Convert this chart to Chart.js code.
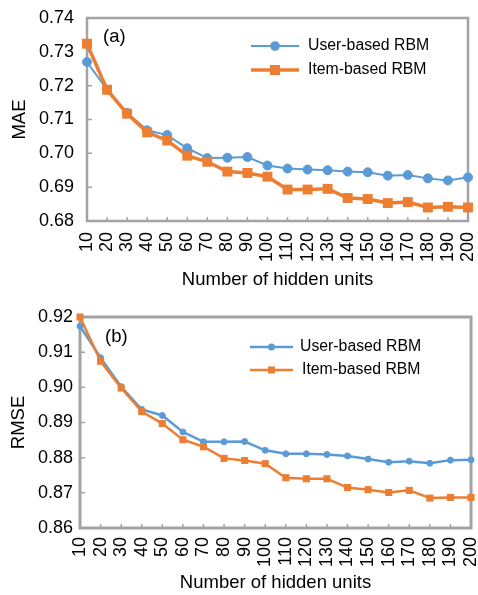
<!DOCTYPE html>
<html>
<head>
<meta charset="utf-8">
<script src="https://cdn.jsdelivr.net/npm/chart.js"></script>
<style>
  body { margin: 0; background: #fff; }
  canvas { display: block; }
</style>
</head>
<body>
<canvas id="maeChart" width="478" height="300"></canvas>
<canvas id="rmseChart" width="478" height="295"></canvas>
<script>
// data
var hiddenUnits = ["10","20","30","40","50","60","70","80","90","100","110","120","130","140","150","160","170","180","190","200"];

var maeUser = [0.7270,0.7188,0.7120,0.7068,0.7054,0.7015,0.6986,0.6987,0.6989,0.6964,0.6955,0.6952,0.6950,0.6946,0.6944,0.6934,0.6936,0.6926,0.6920,0.6929];
var maeItem = [0.7324,0.7188,0.7117,0.7062,0.7038,0.6993,0.6975,0.6946,0.6942,0.6931,0.6893,0.6893,0.6895,0.6868,0.6865,0.6853,0.6856,0.6840,0.6842,0.6840];

var rmseUser = [0.9174,0.9084,0.9002,0.8937,0.8920,0.8873,0.8845,0.8845,0.8846,0.8821,0.8811,0.8811,0.8809,0.8805,0.8796,0.8787,0.8790,0.8784,0.8793,0.8794];
var rmseItem = [0.9200,0.9074,0.8998,0.8931,0.8897,0.8851,0.8831,0.8798,0.8792,0.8783,0.8743,0.8740,0.8740,0.8715,0.8709,0.8701,0.8707,0.8685,0.8687,0.8687];

var seriesNames = ["User-based RBM", "Item-based RBM"];
var maeTicks = [0.68, 0.74, 0.01];
var rmseTicks = [0.86, 0.92, 0.01];

var blue = "#5B9BD5";
var orange = "#ED7D31";
var frameGray = "#a3a3a3";
var font = "'Liberation Sans', Arial, sans-serif";

Chart.defaults.font.family = font;
Chart.defaults.color = "#000";

// frame round the plot area + small inward ticks
var framePlugin = {
  id: "frame",
  beforeDatasetsDraw: function (chart, args, opts) {
    var ctx = chart.ctx, a = chart.chartArea;
    var xs = chart.scales.x, ys = chart.scales.y;
    ctx.save();
    ctx.strokeStyle = frameGray;
    ctx.lineWidth = opts.width;
    ctx.strokeRect(a.left, a.top, a.right - a.left, a.bottom - a.top);
    ctx.lineWidth = 1.5;
    ctx.beginPath();
    for (var i = 0; i < xs.ticks.length; i++) {
      var px = xs.getPixelForTick(i);
      ctx.moveTo(px, a.bottom);
      ctx.lineTo(px, a.bottom - 4);
    }
    for (var j = 0; j < ys.ticks.length; j++) {
      var py = ys.getPixelForTick(j);
      ctx.moveTo(a.left, py);
      ctx.lineTo(a.left + 5, py);
    }
    ctx.stroke();
    ctx.restore();
  }
};

// legend drawn inside the plot + panel letter
var insideLegend = {
  id: "insideLegend",
  afterDraw: function (chart, args, opts) {
    var ctx = chart.ctx;
    ctx.save();
    ctx.font = "18.5px " + font;
    ctx.fillStyle = "#000";
    ctx.textBaseline = "middle";
    ctx.fillText(opts.letter, opts.letterX, opts.letterY);

    ctx.font = opts.fontSize + "px " + font;
    chart.data.datasets.forEach(function (ds, i) {
      var y = opts.y + i * opts.gap;
      var x0 = opts.x, x1 = opts.x + opts.len, xm = (x0 + x1) / 2;
      ctx.strokeStyle = ds.borderColor;
      ctx.lineWidth = ds.borderWidth;
      ctx.beginPath();
      ctx.moveTo(x0, y);
      ctx.lineTo(x1, y);
      ctx.stroke();
      ctx.fillStyle = ds.borderColor;
      if (ds.pointStyle == "rect") {
        var s = opts.square;
        ctx.fillRect(xm - s / 2, y - s / 2, s, s);
      } else {
        ctx.beginPath();
        ctx.arc(xm, y, opts.dot, 0, Math.PI * 2);
        ctx.fill();
      }
      ctx.fillStyle = "#000";
      ctx.fillText(ds.label, x1 + opts.textGap + (i * opts.textShift), y);
    });
    ctx.restore();
  }
};

function makeChart(id, userData, itemData, range, cfg) {
  var c = document.getElementById(id).getContext("2d");
  return new Chart(c, {
    type: "line",
    data: {
      labels: hiddenUnits,
      datasets: [
        {
          label: seriesNames[0],
          data: userData,
          borderColor: blue,
          backgroundColor: blue,
          borderWidth: cfg.userLine,
          pointStyle: "circle",
          pointRadius: cfg.dot,
          pointBorderWidth: 1,
          tension: 0,
          clip: false,
          order: 2
        },
        {
          label: seriesNames[1],
          data: itemData,
          borderColor: orange,
          backgroundColor: orange,
          borderWidth: cfg.itemLine,
          pointStyle: "rect",
          pointRadius: cfg.rect,
          pointBorderWidth: 0,
          tension: 0,
          clip: false,
          order: 1
        }
      ]
    },
    options: {
      responsive: false,
      animation: false,
      events: [],
      layout: { padding: { top: cfg.top, right: cfg.right, left: 0, bottom: 0 } },
      plugins: {
        legend: { display: false },
        tooltip: { enabled: false },
        frame: { width: cfg.frame },
        insideLegend: cfg.legend
      },
      scales: {
        x: {
          type: "category",
          offset: false,
          grid: { display: false, drawTicks: false },
          border: { display: false },
          ticks: {
            autoSkip: false,
            maxRotation: 90,
            minRotation: 90,
            padding: cfg.xPad,
            font: { size: 18 }
          },
          title: {
            display: true,
            text: "Number of hidden units",
            font: { size: 18.5 },
            padding: { top: 0, bottom: cfg.xTitlePad }
          },
          afterFit: function (s) {
            s.height = cfg.xHeight;
            s.paddingLeft = 0;
            s.paddingRight = 0;
          }
        },
        y: {
          min: range[0],
          max: range[1],
          grid: { display: false, drawTicks: false },
          border: { display: false },
          ticks: {
            stepSize: range[2],
            padding: cfg.yPad,
            font: { size: 18 },
            callback: function (v) { return v.toFixed(2); }
          },
          title: {
            display: true,
            text: cfg.yTitle,
            font: { size: 18.5 },
            padding: { top: cfg.yTitlePad, bottom: 0 }
          },
          afterFit: function (s) {
            s.width = cfg.yWidth;
            s.paddingTop = 0;
            s.paddingBottom = 0;
          }
        }
      }
    },
    plugins: [framePlugin, insideLegend]
  });
}

makeChart("maeChart", maeUser, maeItem, maeTicks, {
  top: 18, right: 10, yWidth: 87, yPad: 13, xHeight: 79, xPad: 11,
  xTitlePad: 9, yTitlePad: 9, yTitle: "MAE", frame: 2.5,
  userLine: 2, itemLine: 3.5, dot: 4.5, rect: 7,
  legend: { letter: "(a)", letterX: 103, letterY: 37, x: 251, y: 46, gap: 24, len: 48,
            textGap: 9, textShift: 0, fontSize: 15.8, dot: 4.8, square: 10 }
});

makeChart("rmseChart", rmseUser, rmseItem, rmseTicks, {
  top: 17, right: 7, yWidth: 80, yPad: 7, xHeight: 67, xPad: 9,
  xTitlePad: 1, yTitlePad: 8, yTitle: "RMSE", frame: 3,
  userLine: 2.5, itemLine: 2.5, dot: 3, rect: 5,
  legend: { letter: "(b)", letterX: 105, letterY: 37, x: 250, y: 47, gap: 23, len: 43,
            textGap: 7, textShift: 2, fontSize: 15.8, dot: 3.5, square: 7 }
});
</script>
</body>
</html>
